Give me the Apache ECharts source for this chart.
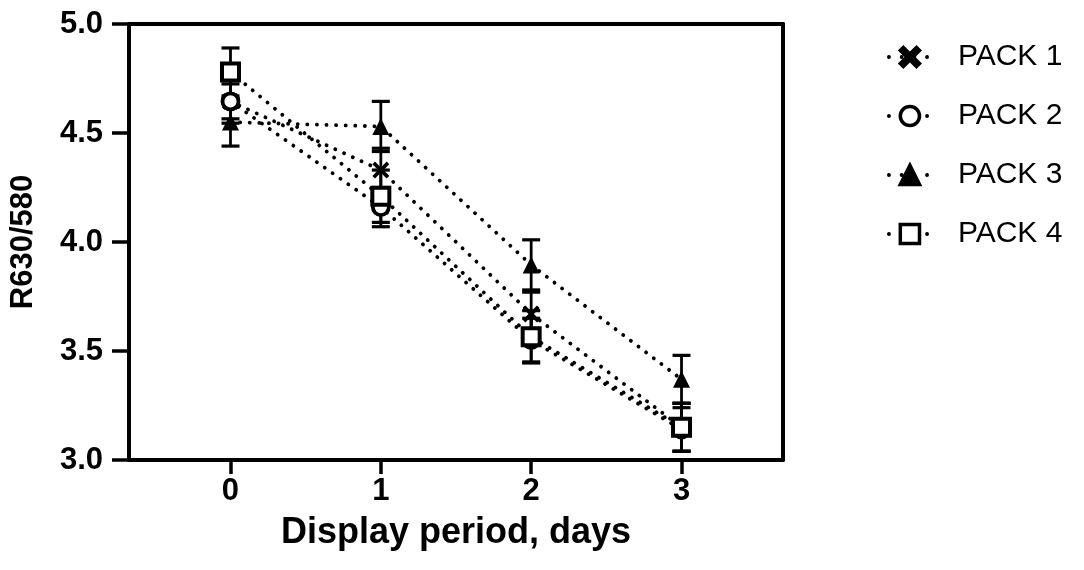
<!DOCTYPE html>
<html>
<head>
<meta charset="utf-8">
<script src="https://cdn.jsdelivr.net/npm/echarts@6/dist/echarts.min.js"></script>
<style>
html,body{margin:0;padding:0;background:#fff;}
#chart{width:1084px;height:570px;}
</style>
</head>
<body>
<div id="chart"></div>
<script>
const days = [0, 1, 2, 3];
const seriesNames = ['PACK 1', 'PACK 2', 'PACK 3', 'PACK 4'];
const pack1 = [4.645, 4.33, 3.67, 3.15];
const pack2 = [4.645, 4.16, 3.55, 3.14];
const pack3 = [4.55, 4.53, 3.895, 3.37];
const pack4 = [4.78, 4.21, 3.565, 3.15];
const err1 = [0.10, 0.10, 0.10, 0.11];
const err2 = [0.08, 0.09, 0.10, 0.10];
const err3 = [0.11, 0.115, 0.115, 0.11];
const err4 = [0.11, 0.12, 0.12, 0.11];
const xTickValues = [0, 1, 2, 3];

const FONT = "'Liberation Sans', Arial, sans-serif";
const crossPath = 'path://M0,2.5 L2.5,0 L8,5.5 L13.5,0 L16,2.5 L10.5,8 L16,13.5 L13.5,16 L8,10.5 L2.5,16 L0,13.5 L5.5,8 Z';

const symbols = [
  {symbol: crossPath, size: 17, item: {color: '#000', borderWidth: 0}},
  {symbol: 'circle', size: 16, item: {color: '#fff', borderColor: '#000', borderWidth: 3.8}},
  {symbol: 'triangle', size: 17, item: {color: '#000', borderWidth: 0}},
  {symbol: 'rect', size: 17, item: {color: '#fff', borderColor: '#000', borderWidth: 4}}
];
const values = [pack1, pack2, pack3, pack4];
const errs = [err1, err2, err3, err4];

const series = [];
values.forEach((vals, i) => {
  series.push({
    type: 'custom',
    name: seriesNames[i] + ' err',
    z: 2,
    silent: true,
    encode: {x: 0, y: [1, 2]},
    data: days.map((d, k) => [d, vals[k] - errs[i][k], vals[k] + errs[i][k]]),
    renderItem: function (params, api) {
      const x = api.value(0);
      const lo = api.coord([x, api.value(1)]);
      const hi = api.coord([x, api.value(2)]);
      const hw = 9;
      return {
        type: 'group',
        children: [
          {type: 'line', shape: {x1: lo[0], y1: lo[1], x2: hi[0], y2: hi[1]}, style: {stroke: '#000', lineWidth: 2.8}},
          {type: 'line', shape: {x1: lo[0] - hw, y1: lo[1], x2: lo[0] + hw, y2: lo[1]}, style: {stroke: '#000', lineWidth: 3.2}},
          {type: 'line', shape: {x1: hi[0] - hw, y1: hi[1], x2: hi[0] + hw, y2: hi[1]}, style: {stroke: '#000', lineWidth: 3.2}}
        ]
      };
    }
  });
});
values.forEach((vals, i) => {
  series.push({
    type: 'line',
    name: seriesNames[i],
    z: 5,
    data: days.map((d, k) => [d, vals[k]]),
    symbol: symbols[i].symbol,
    symbolSize: symbols[i].size,
    showAllSymbol: true,
    itemStyle: Object.assign({opacity: 1}, symbols[i].item),
    lineStyle: {color: '#000', width: 3.8, type: [0.1, 9.5], cap: 'round'},
    emphasis: {disabled: true},
    animation: false
  });
});

const chart = echarts.init(document.getElementById('chart'), null, {renderer: 'canvas'});
chart.setOption({
  animation: false,
  backgroundColor: '#fff',
  grid: {left: 129, top: 24, right: 301, bottom: 110, containLabel: false},
  legend: {
    orient: 'vertical',
    left: 882,
    top: 37,
    itemWidth: 42,
    itemHeight: 24,
    itemGap: 29,
    data: seriesNames,
    itemStyle: {borderColor: '#000', borderWidth: 3.5},
    lineStyle: {color: '#000', width: 3.8, type: [0.1, 12.6], cap: 'round'},
    textStyle: {fontFamily: FONT, fontSize: 30, color: '#000', lineHeight: 30, padding: [0, 0, 0, 22]},
    inactiveColor: '#000'
  },
  xAxis: [{
    type: 'value',
    min: -0.675,
    max: 3.675,
    name: 'Display period, days',
    nameLocation: 'middle',
    nameGap: 55,
    nameTextStyle: {fontFamily: FONT, fontSize: 36, fontWeight: 'bold', color: '#000'},
    axisLine: {onZero: false, lineStyle: {color: '#000', width: 4}},
    axisTick: {show: true, customValues: xTickValues, length: 14, lineStyle: {color: '#000', width: 3.5}},
    axisLabel: {customValues: xTickValues, margin: 16, fontFamily: FONT, fontSize: 31, fontWeight: 'bold', color: '#000'},
    splitLine: {show: false}
  }, {
    type: 'value',
    position: 'top',
    min: -0.675,
    max: 3.675,
    axisLine: {show: true, onZero: false, lineStyle: {color: '#000', width: 4}},
    axisTick: {show: false},
    axisLabel: {show: false},
    splitLine: {show: false}
  }],
  yAxis: [{
    type: 'value',
    min: 3.0,
    max: 5.0,
    interval: 0.5,
    name: 'R630/580',
    nameLocation: 'middle',
    nameGap: 90,
    nameTextStyle: {fontFamily: FONT, fontSize: 31, fontWeight: 'bold', color: '#000'},
    axisLine: {show: true, onZero: false, lineStyle: {color: '#000', width: 4}},
    axisTick: {show: true, length: 17, lineStyle: {color: '#000', width: 3.5}},
    axisLabel: {margin: 26, fontFamily: FONT, fontSize: 31, fontWeight: 'bold', color: '#000',
      formatter: v => v.toFixed(1)},
    splitLine: {show: false}
  }, {
    type: 'value',
    position: 'right',
    min: 3.0,
    max: 5.0,
    axisLine: {show: true, onZero: false, lineStyle: {color: '#000', width: 4}},
    axisTick: {show: false},
    axisLabel: {show: false},
    splitLine: {show: false}
  }],
  series: series
});
</script>
</body>
</html>
